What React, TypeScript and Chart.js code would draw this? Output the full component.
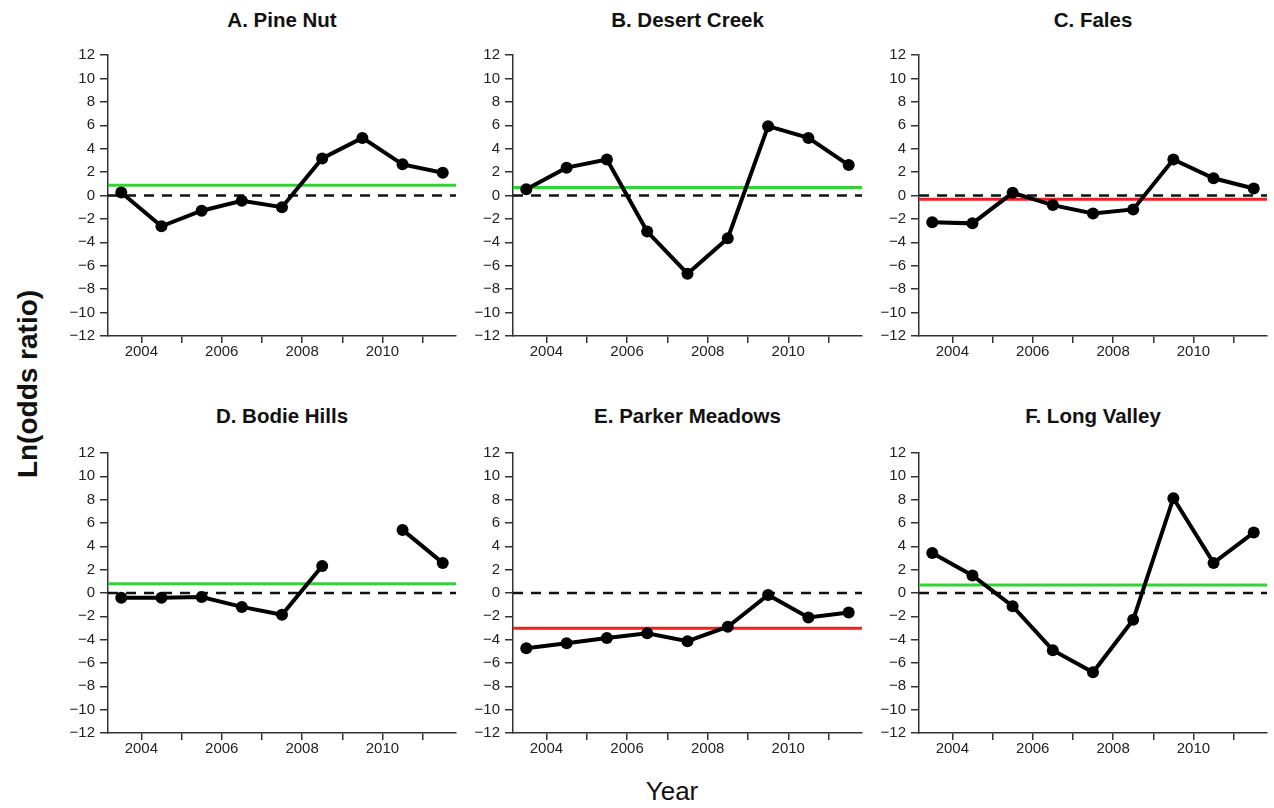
import React, { useEffect, useRef } from 'react';
import { Chart, registerables } from 'chart.js';

Chart.register(...registerables);

// ---------- data ----------
const YEARS = [2003, 2004, 2005, 2006, 2007, 2008, 2009, 2010, 2011];
const X_TICK_YEARS = [2004, 2005, 2006, 2007, 2008, 2009, 2010, 2011];
const X_TICK_LABELS = ['2004', '2006', '2008', '2010'];
const X_MIN = 2003.17;
const X_MAX = 2011.83;
const Y_MIN = -12;
const Y_MAX = 12;
const Y_STEP = 2;

const TITLES = [
  'A. Pine Nut',
  'B. Desert Creek',
  'C. Fales',
  'D. Bodie Hills',
  'E. Parker Meadows',
  'F. Long Valley',
];

const PINE_NUT = [0.25, -2.63, -1.3, -0.45, -1.0, 3.17, 4.92, 2.66, 1.95];
const DESERT_CREEK = [0.54, 2.38, 3.08, -3.08, -6.68, -3.65, 5.92, 4.92, 2.6];
const FALES = [-2.29, -2.38, 0.23, -0.82, -1.53, -1.19, 3.08, 1.47, 0.6];
const BODIE_HILLS = [-0.4, -0.4, -0.34, -1.19, -1.87, 2.32, null, 5.41, 2.58];
const PARKER_MEADOWS = [-4.73, -4.3, -3.85, -3.46, -4.13, -2.89, -0.17, -2.1, -1.67];
const LONG_VALLEY = [3.43, 1.5, -1.13, -4.9, -6.8, -2.3, 8.13, 2.58, 5.18];
const SERIES = [PINE_NUT, DESERT_CREEK, FALES, BODIE_HILLS, PARKER_MEADOWS, LONG_VALLEY];

const MEAN_VALUES = [0.88, 0.68, -0.31, 0.79, -3.03, 0.68];
const REFERENCE_VALUE = 0;

// ---------- styles / layout ----------
const GREEN = '#35d235';
const RED = '#ee2020';
const FONT = "'Liberation Sans', Arial, Helvetica, sans-serif";
const PLOT_LEFT = [108, 513, 919];
const PLOT_RIGHT = [456, 862, 1267];
const PLOT_TOP = [53, 451];
const PLOT_BOTTOM = [336, 733];
const TITLE_CENTER_Y = [20, 416];
const Y_AXIS_W = 56;
const X_AXIS_H = 30;
const TOP_PAD = 12;
const RIGHT_PAD = 6;

function fmtY(v: number) {
  return v < 0 ? '\u2212' + Math.abs(v) : String(v);
}

function Panel({ idx }: { idx: number }) {
  const ref = useRef<HTMLCanvasElement | null>(null);
  const col = idx % 3;
  const row = Math.floor(idx / 3);
  const plotL = PLOT_LEFT[col];
  const plotR = PLOT_RIGHT[col];
  const plotT = PLOT_TOP[row];
  const plotB = PLOT_BOTTOM[row];
  const canvasL = plotL - Y_AXIS_W;
  const canvasT = plotT - TOP_PAD;
  const w = plotR + RIGHT_PAD - canvasL;
  const h = plotB + X_AXIS_H - canvasT;

  useEffect(() => {
    if (!ref.current) return;
    const values = SERIES[idx];
    const mean = MEAN_VALUES[idx];
    const chart = new Chart(ref.current, {
      type: 'line',
      data: {
        datasets: [
          {
            data: [
              { x: X_MIN, y: REFERENCE_VALUE },
              { x: X_MAX, y: REFERENCE_VALUE },
            ],
            borderColor: '#111',
            borderWidth: 2.5,
            borderDash: [10, 8],
            pointRadius: 0,
            order: 3,
          },
          {
            data: [
              { x: X_MIN, y: mean },
              { x: X_MAX, y: mean },
            ],
            borderColor: mean >= 0 ? GREEN : RED,
            borderWidth: 3,
            pointRadius: 0,
            order: 2,
          },
          {
            data: YEARS.map((yr, i) => ({ x: yr + 0.5, y: values[i] })),
            borderColor: '#000',
            borderWidth: 4,
            pointRadius: 6,
            pointBackgroundColor: '#000',
            pointBorderColor: '#000',
            pointBorderWidth: 0,
            spanGaps: false,
            tension: 0,
            order: 1,
          },
        ],
      },
      options: {
        responsive: false,
        animation: false,
        devicePixelRatio: 1,
        layout: { padding: { left: 0, right: RIGHT_PAD, top: TOP_PAD, bottom: 0 } },
        plugins: {
          legend: { display: false },
          tooltip: { enabled: false },
          title: { display: false },
        },
        scales: {
          x: {
            type: 'linear',
            min: X_MIN,
            max: X_MAX,
            afterFit: (s: any) => {
              s.height = X_AXIS_H;
            },
            afterBuildTicks: (s: any) => {
              s.ticks = X_TICK_YEARS.map((v) => ({ value: v }));
            },
            ticks: {
              autoSkip: false,
              maxRotation: 0,
              minRotation: 0,
              padding: 0,
              color: '#222',
              font: { family: FONT, size: 15 },
              callback: (v: any) => (X_TICK_LABELS.includes(String(v)) ? String(v) : ''),
            },
            grid: { drawOnChartArea: false, tickLength: 7, color: '#333', lineWidth: 1.5 },
            border: { color: '#333', width: 1.5 },
          },
          y: {
            type: 'linear',
            min: Y_MIN,
            max: Y_MAX,
            afterFit: (s: any) => {
              s.width = Y_AXIS_W;
            },
            ticks: {
              stepSize: Y_STEP,
              padding: 5,
              color: '#222',
              font: { family: FONT, size: 15 },
              callback: (v: any) => fmtY(Number(v)),
            },
            grid: { drawOnChartArea: false, tickLength: 8, color: '#333', lineWidth: 1.5 },
            border: { color: '#333', width: 1.5 },
          },
        },
      },
    } as any);
    return () => chart.destroy();
  }, [idx]);

  return (
    <>
      <div
        style={{
          position: 'absolute',
          left: plotL,
          width: plotR - plotL,
          top: TITLE_CENTER_Y[row] - 12,
          height: 24,
          lineHeight: '24px',
          textAlign: 'center',
          fontFamily: FONT,
          fontWeight: 'bold',
          fontSize: 20.5,
          color: '#111',
          whiteSpace: 'nowrap',
        }}
      >
        {TITLES[idx]}
      </div>
      <canvas
        ref={ref}
        width={w}
        height={h}
        style={{ position: 'absolute', left: canvasL, top: canvasT, width: w, height: h }}
      />
    </>
  );
}

export default function App() {
  return (
    <div
      style={{
        position: 'absolute',
        left: 0,
        top: 0,
        width: 1274,
        height: 808,
        background: '#fff',
        overflow: 'hidden',
      }}
    >
      {TITLES.map((_, i) => (
        <Panel key={i} idx={i} />
      ))}
      <div
        style={{
          position: 'absolute',
          left: 672,
          top: 791,
          transform: 'translate(-50%, -50%)',
          fontFamily: FONT,
          fontSize: 26,
          lineHeight: '30px',
          color: '#111',
          whiteSpace: 'nowrap',
        }}
      >
        Year
      </div>
      <div
        style={{
          position: 'absolute',
          left: 28,
          top: 384,
          transform: 'translate(-50%, -50%) rotate(-90deg)',
          fontFamily: FONT,
          fontWeight: 'bold',
          fontSize: 28,
          lineHeight: '32px',
          color: '#111',
          whiteSpace: 'nowrap',
        }}
      >
        Ln(odds ratio)
      </div>
    </div>
  );
}
